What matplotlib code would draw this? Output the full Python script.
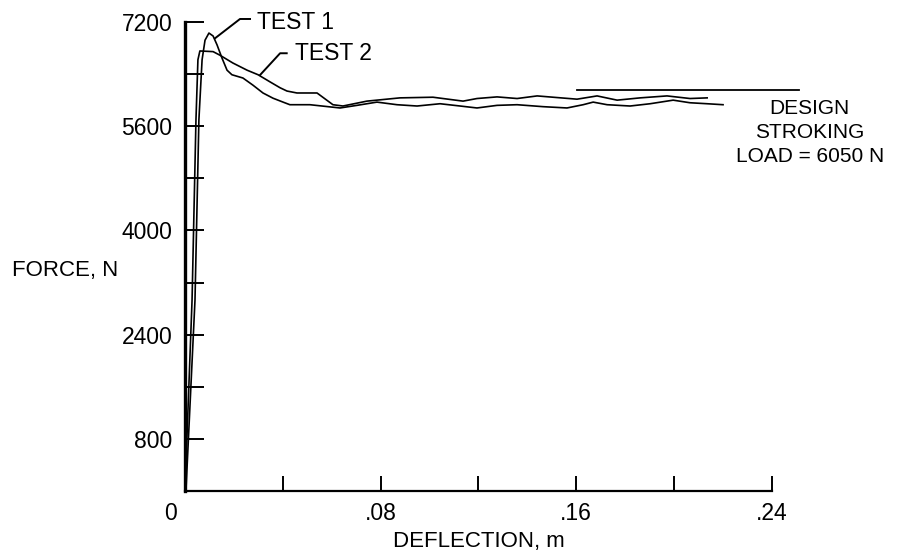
import matplotlib
matplotlib.use("Agg")
import matplotlib.pyplot as plt
import matplotlib.transforms as mtransforms

plt.rcParams['font.family'] = ['Liberation Sans', 'DejaVu Sans']

# Test 1 (peak ~7000 N)
t1_x = [0.0004, 0.0041, 0.0057, 0.0070, 0.0082, 0.0098, 0.0115, 0.0131, 0.0151, 0.0172,
        0.0192, 0.0237, 0.0278, 0.0319, 0.0360, 0.0401, 0.0429, 0.0511, 0.0634, 0.0703,
        0.0785, 0.0867, 0.0949, 0.1043, 0.1125, 0.1194, 0.1276, 0.1358, 0.1464, 0.1562,
        0.1628, 0.1669, 0.1726, 0.1820, 0.1902, 0.1996, 0.2065, 0.2135, 0.2200]
t1_y = [0, 2930, 5700, 6620, 6920, 7030, 6985, 6850, 6650, 6460,
        6390, 6340, 6230, 6110, 6030, 5970, 5930, 5930, 5880, 5920,
        5970, 5930, 5910, 5945, 5910, 5880, 5920, 5930, 5900, 5880,
        5930, 5970, 5930, 5910, 5945, 6000, 5960, 5945, 5930]

# Test 2 (flat top ~6750 N)
t2_x = [0.0, 0.0029, 0.0045, 0.0053, 0.0061, 0.0115, 0.0143, 0.0196, 0.0254, 0.0299,
        0.0348, 0.0389, 0.0417, 0.0458, 0.0540, 0.0605, 0.0646, 0.0744, 0.0879, 0.1014,
        0.1137, 0.1194, 0.1276, 0.1358, 0.1440, 0.1521, 0.1603, 0.1685, 0.1767, 0.1861,
        0.1971, 0.2065, 0.2135]
t2_y = [0, 2930, 5700, 6620, 6755, 6745, 6690, 6570, 6460, 6390,
        6280, 6190, 6140, 6110, 6110, 5930, 5910, 5985, 6035, 6045,
        5985, 6025, 6050, 6025, 6065, 6040, 6015, 6065, 6000, 6035,
        6065, 6025, 6035]

design_x = [0.1603, 0.251]
design_y = [6150, 6150]

xticks = [0, 0.04, 0.08, 0.12, 0.16, 0.20, 0.24]
xticklabels = ['0', '', '.08', '', '.16', '', '.24']
yticks = [800, 1600, 2400, 3200, 4000, 4800, 5600, 6400, 7200]
yticklabels = ['800', '', '2400', '', '4000', '', '5600', '', '7200']

fig = plt.figure(figsize=(8.97, 5.58), dpi=100)
ax = fig.add_axes([0.2062, 0.1201, 0.6544, 0.8405])

ax.plot(t1_x, t1_y, color='black', lw=1.2)
ax.plot(t2_x, t2_y, color='black', lw=1.2)
ax.plot(design_x, design_y, color='black', lw=1.3, clip_on=False)

ax.set_xlim(0, 0.24)
ax.set_ylim(0, 7200)

for s in ['top', 'right']:
    ax.spines[s].set_visible(False)
ax.spines['left'].set_linewidth(2.4)
ax.spines['bottom'].set_linewidth(1.6)

ax.set_xticks(xticks)
ax.set_xticklabels(xticklabels)
ax.set_yticks(yticks)
ax.set_yticklabels(yticklabels)
ax.tick_params(axis='x', direction='in', length=11, width=1.4, pad=8, labelsize=16.5)
ax.tick_params(axis='y', direction='in', length=14, width=1.4, pad=9, labelsize=16.5)

# shift the "0" label left, under the corner
offset = mtransforms.ScaledTranslation(-14 / 100, 0, fig.dpi_scale_trans)
lbl0 = ax.get_xticklabels()[0]
lbl0.set_transform(lbl0.get_transform() + offset)

ax.set_xlabel('DEFLECTION, m', fontsize=16, labelpad=4)
ax.set_ylabel('FORCE, N', fontsize=16, rotation=0, ha='right', va='center')
ax.yaxis.set_label_coords(-0.114, 0.471)

# curve labels with leader lines
ax.plot([0.0123, 0.0225, 0.0266], [6950, 7246, 7246], color='black', lw=1.4, clip_on=False)
ax.text(0.0295, 7190, 'TEST 1', fontsize=16.5, va='center', ha='left')
ax.plot([0.0307, 0.0389, 0.0416], [6386, 6720, 6720], color='black', lw=1.4, clip_on=False)
ax.text(0.0450, 6720, 'TEST 2', fontsize=16.5, va='center', ha='left')

ax.text(0.2555, 6020, 'DESIGN\nSTROKING\nLOAD = 6050 N', fontsize=15,
        ha='center', va='top', multialignment='center', linespacing=1.35)

plt.savefig('out.png', dpi=100)
